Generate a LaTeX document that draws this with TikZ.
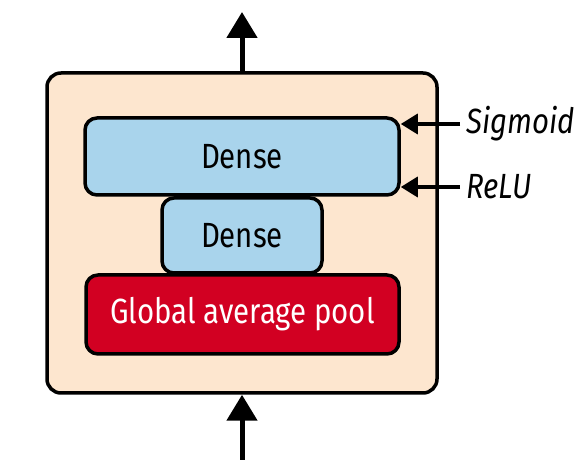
\documentclass[tikz,border=0pt]{standalone}
\usepackage{fontspec}
\setmainfont{Fira Sans}[FakeStretch=0.84]
\usetikzlibrary{arrows.meta}
\definecolor{peach}{HTML}{FDE6CF}
\definecolor{lblue}{HTML}{A9D4EC}
\definecolor{dred}{HTML}{D20022}
\tikzset{
  blk/.style={draw=black, line width=3.5pt, rounded corners=12pt, inner sep=0pt, font=\fontsize{35}{40}\selectfont},
  mainarr/.style={line width=5pt, -{Triangle[length=26pt,width=30pt]}},
  sidearr/.style={line width=3.5pt, -{Triangle[length=17pt,width=20pt]}},
  lbl/.style={anchor=west, inner sep=0pt, font=\fontsize{35}{40}\selectfont\itshape}
}
\begin{document}
\begin{tikzpicture}[x=1pt,y=-1pt]
\useasboundingbox (0,0) rectangle (582,470);
\node[blk, fill=peach, minimum width=390pt, minimum height=320pt, rounded corners=14pt] (outer) at (242,233) {};
\node[blk, fill=lblue, minimum width=314pt, minimum height=77pt] (d1) at (242,156.5) {Dense};
\node[blk, fill=lblue, minimum width=160pt, minimum height=75pt] (d2) at (242,235.5) {Dense};
\node[blk, fill=dred, text=white, minimum width=313pt, minimum height=79pt] (gap) at (242.5,314.5) {Global average pool};
\coordinate (top) at (242,12);
\coordinate (bot) at (242,460);
\draw[mainarr] (outer.north) -- (top);
\draw[mainarr] (bot) -- (outer.south);
\coordinate (sigc) at (460,124);
\coordinate (reluc) at (460,187);
\draw[sidearr] (sigc) -- (sigc -| d1.east);
\draw[sidearr] (reluc) -- (reluc -| d1.east);
\node[lbl] (sig) at (466,124) {Sigmoid};
\node[lbl] (relu) at (466,187) {ReLU};
\end{tikzpicture}
\end{document}
